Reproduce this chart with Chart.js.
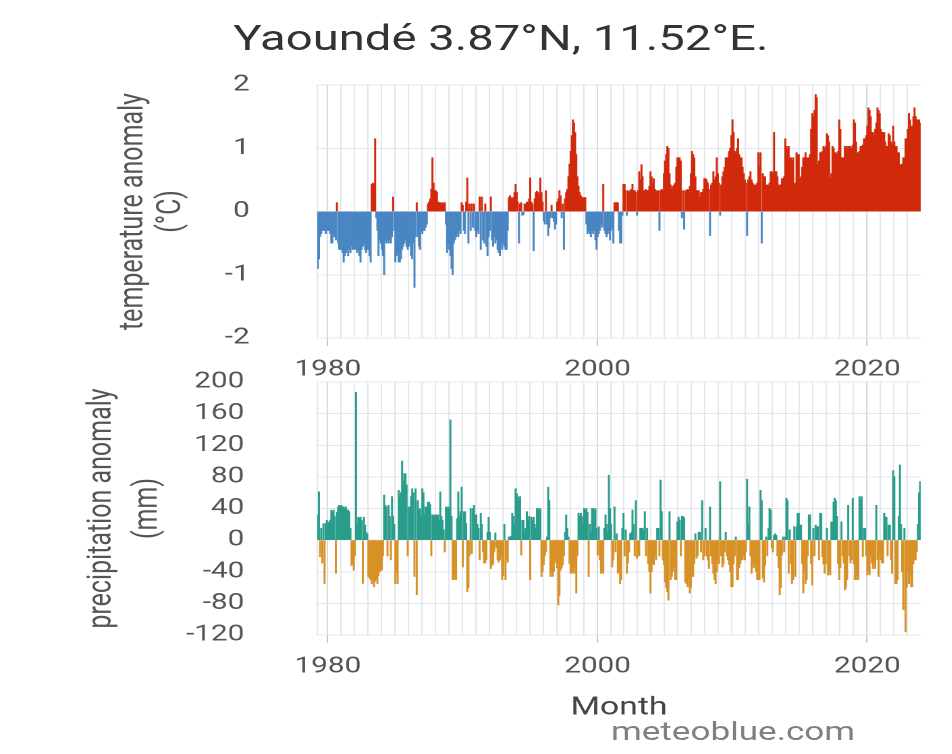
<!DOCTYPE html>
<html>
<head>
<meta charset="utf-8">
<title>Yaoundé 3.87°N, 11.52°E.</title>
<script src="https://cdn.jsdelivr.net/npm/chart.js@4.4.1/dist/chart.umd.min.js"></script>
<style>
  html, body { margin: 0; padding: 0; background: #fff; }
  body { width: 952px; height: 754px; overflow: hidden; position: relative; font-family: Roboto, sans-serif; }
  /* the reference is a horizontally stretched screenshot, so everything is laid out
     705px wide and stretched by 1.35 */
  #stage { position: absolute; left: 0; top: 0; width: 705px; height: 754px; transform: scaleX(1.35); transform-origin: 0 0; }
  #title { position: absolute; left: 0; top: 21px; width: 742px; text-align: center; font-size: 35px; line-height: 35px; color: #333; }
  .box { position: absolute; left: 0; width: 705px; }
  #tempBox { top: 70px; height: 320px; }
  #precBox { top: 365px; height: 360px; }
  #credit { position: absolute; left: 443px; width: 200px; top: 716px; text-align: center; font-size: 26px; line-height: 30px; color: #808080; }
</style>
</head>
<body>
<div id="stage">
  <div id="title">Yaoundé 3.87°N, 11.52°E.</div>
  <div class="box" id="tempBox"><canvas id="tempChart"></canvas></div>
  <div class="box" id="precBox"><canvas id="precChart"></canvas></div>
  <div id="credit">meteoblue.com</div>
</div>
<script>
const tickYears = ['1980', '2000', '2020'];
const startYear = 1979;
const startMonth = 4;

// monthly temperature anomaly (°C), one line per year
const tempAnomaly = [
  -0.9, -0.75, -0.4, -0.35, -0.3, -0.3, -0.3, -0.35, -0.3,
  -0.3, -0.3, -0.35, -0.5, -0.5, -0.35, -0.4, -0.45, 0.14, -0.5, -0.6, -0.6,
  -0.6, -0.65, -0.8, -0.7, -0.65, -0.6, -0.7, -0.6, -0.65, -0.55, -0.6, -0.6,
  -0.55, -0.6, -0.65, -0.6, -0.7, -0.8, -0.6, -0.55, -0.5, -0.6, -0.65, -0.6,
  -0.6, -0.7, -0.8, 0.43, 0.45, 0.43, 1.15, -0.1, -0.3, -0.7, -0.45, -0.5,
  -0.6, -0.7, -1.0, -0.45, -0.5, -0.45, -0.5, -0.45, -0.5, -0.4, 0.23, -0.3,
  -0.8, -0.7, -0.65, -0.8, -0.8, -0.75, -0.6, -0.55, -0.5, -0.45, -0.55, -0.6,
  -0.55, -0.5, -0.7, -0.75, -0.5, -1.2, -0.4, 0.14, -0.4, -0.55, -0.6, -0.3,
  -0.35, -0.3, -0.3, -0.25, -0.2, 0.12, 0.15, 0.2, 0.35, 0.85, 0.45, 0.33,
  0.33, 0.3, 0.15, 0.14, 0.14, 0.12, 0.14, 0.12, 0.14, -0.2, -0.65, -0.5,
  -0.6, -0.7, -0.9, -1.0, -0.5, -0.45, -0.4, -0.35, -0.4, -0.3, -0.35, 0.14,
  0.1, -0.3, -0.35, 0.15, 0.53, -0.5, 0.12, -0.3, 0.12, -0.25, 0.12, -0.3,
  -0.4, -0.3, -0.35, 0.23, -0.6, 0.23, -0.45, -0.5, 0.12, -0.55, -0.7, -0.4,
  -0.3, 0.23, -0.45, -0.55, -0.4, -0.5, -0.45, -0.6, -0.65, -0.7, -0.5, -0.6,
  -0.5, -0.55, -0.6, -0.6, -0.3, 0.22, 0.25, 0.22, 0.18, 0.22, 0.3, 0.43,
  0.3, 0.15, -0.5, 0.12, 0.14, -0.06, -0.05, 0.12, 0.12, 0.15, 0.14, 0.2,
  0.53, 0.15, 0.12, -0.62, 0.2, 0.3, 0.32, 0.3, 0.25, 0.53, 0.3, 0.15,
  -0.15, -0.2, 0.33, -0.2, -0.38, -0.25, -0.1, 0.1, -0.1, -0.15, -0.28, -0.2,
  0.15, 0.2, 0.33, 0.25, -0.1, 0.12, -0.6, 0.2, 0.3, 0.35, 0.55, 0.75,
  0.95, 1.2, 1.45, 1.4, 1.25, 0.9, 0.55, 0.4, 0.3, 0.25, 0.22, 0.22,
  0.22, 0.22, -0.2, -0.35, -0.3, -0.35, -0.4, -0.3, -0.35, -0.3, -0.45, -0.6,
  -0.4, -0.35, -0.3, -0.2, -0.25, 0.43, -0.3, -0.35, -0.4, -0.35, -0.3, -0.45,
  -0.3, -0.25, -0.5, 0.14, 0.14, 0.14, 0.14, -0.3, -0.5, -0.5, -0.06, 0.43,
  0.43, 0.33, -0.06, 0.33, 0.3, 0.33, 0.35, 0.43, 0.33, 0.33, 0.3, -0.06,
  0.33, 0.63, 0.5, 0.74, 0.55, 0.33, 0.33, 0.35, 0.33, 0.33, 0.4, 0.63,
  0.55, 0.45, 0.52, 0.35, 0.33, 0.32, 0.33, -0.3, 0.33, 0.35, 0.33, 0.6,
  0.8, 0.9, 1.03, 1.0, 0.6, 0.42, 0.35, 0.4, 0.42, 0.45, 0.7, 0.85,
  0.85, 0.85, 0.8, -0.1, 0.33, -0.28, 0.33, 0.33, 0.35, 0.33, 0.4, 0.6,
  0.95, 0.9, 0.85, 0.55, 0.33, 0.33, 0.33, 0.23, 0.3, 0.3, 0.35, 0.52,
  0.52, 0.5, 0.45, 0.35, -0.38, 0.42, 0.45, 0.63, 0.5, 0.55, 0.85, 0.6,
  0.45, -0.06, 0.42, 0.55, 0.63, 0.7, 0.85, 0.85, 0.85, 0.95, 1.0, 1.2,
  1.45, 1.25, 0.95, 0.93, 1.0, 1.15, 0.9, 0.85, 0.85, 0.7, 0.6, 0.5,
  0.45, -0.38, 0.5, 0.55, 0.63, 0.5, 0.45, 0.42, 0.42, 0.42, 0.45, 0.93,
  0.7, 0.93, -0.5, 0.6, 0.55, 0.55, 0.42, 0.42, 0.42, 0.45, 0.63, 0.63,
  0.6, 1.25, 0.63, 0.63, 0.55, 0.42, 0.42, 0.42, 0.52, 0.52, 0.55, 1.15,
  1.03, 1.0, 1.03, 0.85, 0.85, 0.8, 0.85, 0.42, 0.45, 0.93, 0.9, 0.9,
  0.52, 0.55, 0.7, 0.85, 0.85, 0.93, 0.85, 0.85, 0.85, 0.9, 1.3, 1.55,
  1.5, 1.6, 1.85, 1.8, 0.74, 0.8, 0.93, 0.93, 0.95, 1.03, 1.0, 1.03,
  1.23, 1.2, 1.1, 0.52, 0.6, 1.03, 1.0, 0.93, 0.93, 0.9, 0.95, 1.45,
  1.3, 0.85, 0.85, 0.85, 1.03, 1.03, 1.0, 1.03, 1.03, 1.03, 1.0, 1.05,
  1.45, 1.4, 1.1, 0.93, 0.93, 0.95, 1.03, 1.03, 1.05, 1.15, 1.15, 1.2,
  1.35, 1.64, 1.6, 1.5, 1.25, 1.25, 1.2, 1.3, 1.4, 1.64, 1.6, 1.55,
  1.3, 1.25, 1.25, 1.25, 1.1, 1.03, 1.03, 1.23, 1.2, 1.1, 1.05, 1.35,
  1.1, 1.03, 1.03, 0.93, 0.93, 0.74, 0.74, 0.75, 0.85, 0.85, 1.15, 1.15,
  1.3, 1.55, 1.45, 1.35, 1.35, 1.5, 1.64, 1.5, 1.45, 1.45, 1.45, 1.4
];

// monthly precipitation anomaly (mm), one line per year
const precipAnomaly = [
  32, 61, -21, 15, -29, 21, -55, 21, 25,
  23, 22, 25, 38, 36, 38, 30, -42, 35, 42, 44, 42,
  44, 42, 42, 40, 42, 38, 38, 36, 15, -32, -30, -38,
  -20, 187, 20, 29, 28, 29, 25, -55, 29, 19, 10, 8,
  -46, -48, -50, -55, -50, -59, -52, -50, -55, -45, -40, -38,
  -38, -20, 57, 44, 42, -20, 44, 30, -25, 55, 30, 20,
  -55, -40, -55, 63, 55, 60, 100, 75, 84, 84, 70, -20,
  42, 42, 55, 65, 60, -46, 65, -69, 50, 38, 40, 30,
  65, 60, 32, 42, 42, 48, 48, 45, -20, 32, 30, 32,
  32, 30, 32, 25, 61, 30, 25, 13, -15, 42, 40, 42,
  40, 152, 30, -50, -50, -48, -50, 27, 61, 30, 36, 67,
  -34, 36, 36, 21, -65, -60, -20, 40, -17, 40, 44, 32,
  32, 20, 15, -25, 34, 20, -15, -29, -29, -25, 10, 29,
  10, -36, -32, -30, -15, 9, -10, -25, -28, -25, -20, -50,
  -45, 20, -50, -25, -28, 4, 4, 5, 34, 30, 20, 65,
  59, 55, 50, 55, -19, 25, 25, 10, 15, 36, 25, 30,
  -50, 29, 25, 29, 20, 15, 40, 40, 38, 40, -46, -40,
  -31, -20, -15, 4, 67, 50, -46, -40, -46, -40, -29, -25,
  -35, -82, -70, -38, -35, -31, -20, 10, 32, 15, 4, -30,
  -42, -40, -42, -35, -42, -67, -20, 34, 30, 34, 30, 20,
  40, 38, 40, 35, -46, 20, 10, 40, 40, 38, 40, 15,
  -19, 17, -25, -42, -40, -42, 15, 32, 20, 10, 82, 40,
  20, -34, -25, 42, -15, 8, -42, -40, -55, -50, 15, 34,
  -20, 13, -42, -29, -15, 8, 10, 38, 20, -20, 50, -23,
  -19, -20, 15, 15, 15, 12, 36, -20, 15, -30, -40, -67,
  -40, -30, -31, -19, -25, 15, 15, -20, 76, 36, -25, -31,
  -53, -60, -65, -76, 36, -50, -46, -40, -35, -50, -50, 23,
  29, 25, -20, 30, 30, 28, -53, -55, -59, -50, -67, -60,
  -46, -46, -30, 8, -23, -20, 10, 10, -15, 50, -25, -20,
  15, -20, -25, -36, 42, -20, -30, -42, -50, -55, -40, -25,
  -30, 74, -20, -34, -30, -15, 10, -20, -25, -31, -40, -59,
  -59, -30, -20, 4, -50, -50, -35, -30, -25, -25, -20, -25,
  -15, 77, 20, 42, -20, -42, -30, -35, -30, -40, -50, -50,
  -50, 63, 50, -48, -53, -32, 4, -20, 15, 40, 38, -10,
  -15, 6, 8, 6, -20, -35, -69, -60, -19, 4, -15, 4,
  53, 50, -42, 13, -30, -55, -50, 17, -46, 17, 34, 34,
  19, 19, -30, -67, -40, -55, -50, -20, 32, 32, -30, -57,
  15, -20, 19, 17, 17, -25, 34, 34, -21, -30, -42, -30,
  15, -44, -40, -44, 23, 23, 48, 53, 50, 30, -30, -50,
  -35, 23, -20, -29, -63, -60, -50, 44, -20, -29, -25, 53,
  -30, -50, -50, -45, -50, 55, 50, 55, -21, 15, 15, -20,
  -44, -40, -44, -20, -29, -36, -30, -36, 44, -25, -46, -20,
  -25, -29, -29, 34, 29, 29, -20, 19, 19, -25, -42, 88,
  80, -55, -55, -50, 30, 95, 20, -40, -88, 15, -116, -60,
  -40, -55, -45, -59, -59, -30, -25, -25, -15, 20, 60, 74
];

// month categories, e.g. "1979-04"
const months = tempAnomaly.map((_, i) => {
  const m = startMonth - 1 + i;
  return (startYear + Math.floor(m / 12)) + '-' + String(m % 12 + 1).padStart(2, '0');
});

const isJan = i => !!months[i] && months[i].endsWith('-01');
const isLabelled = i => isJan(i) && tickYears.includes(months[i].slice(0, 4));

const gridCol = '#e4e6eb';
const decadeCol = '#d3d7de';
const textCol = '#555';
const clear = 'rgba(0,0,0,0)';

function anomalyChart(id, values, cfg) {
  return new Chart(document.getElementById(id), {
    type: 'bar',
    data: {
      labels: months,
      datasets: [{
        data: values,
        backgroundColor: c => (c.raw >= 0 ? cfg.up : cfg.down),
        borderWidth: 0,
        barPercentage: 1,
        categoryPercentage: 1
      }]
    },
    options: {
      animation: false,
      responsive: true,
      maintainAspectRatio: false,
      devicePixelRatio: 2,
      layout: { padding: { left: cfg.padLeft, right: 23, top: cfg.padTop, bottom: 0 } },
      plugins: { legend: { display: false }, tooltip: { enabled: false } },
      scales: {
        x: {
          grid: {
            offset: true,
            color: c => (isLabelled(c.index) ? decadeCol : isJan(c.index) ? gridCol : clear),
            tickColor: c => (isLabelled(c.index) ? '#c3c7cf' : clear),
            tickLength: 8
          },
          border: { display: false },
          ticks: {
            autoSkip: false,
            maxRotation: 0,
            minRotation: 0,
            padding: 11,
            color: textCol,
            font: { family: 'Roboto', size: 22 },
            callback: (v, i) => (isLabelled(i) ? months[i].slice(0, 4) : '')
          },
          title: cfg.xTitle
            ? { display: true, text: cfg.xTitle, color: '#444', font: { family: 'Roboto', size: 25 }, padding: { top: 0, bottom: 2 } }
            : { display: false },
          afterFit: a => { a.height = cfg.xHeight; }
        },
        y: {
          min: cfg.min,
          max: cfg.max,
          ticks: { stepSize: cfg.step, autoSkip: false, padding: 0, color: textCol, font: { family: 'Roboto', size: 22 } },
          // invisible tick marks keep the labels away from the plot
          grid: { color: gridCol, drawTicks: true, tickLength: cfg.tickGap, tickColor: clear },
          border: { display: true, color: gridCol },
          title: {
            display: true,
            text: cfg.yTitle,
            color: textCol,
            font: { family: 'Roboto', size: 25, lineHeight: cfg.titleLine },
            padding: 0
          },
          afterFit: a => { a.width = cfg.yWidth; }
        }
      }
    }
  });
}

anomalyChart('tempChart', tempAnomaly, {
  up: '#d12a0c', down: '#4a86c2',
  min: -2, max: 2, step: 1,
  yTitle: ['temperature anomaly', '(°C)'], titleLine: 1.12,
  padLeft: 85, yWidth: 150, tickGap: 50,
  padTop: 15, xHeight: 52
});

anomalyChart('precChart', precipAnomaly, {
  up: '#2a9d8c', down: '#d69228',
  min: -120, max: 200, step: 40,
  yTitle: ['precipitation anomaly', '(mm)'], titleLine: 1.35,
  padLeft: 59, yWidth: 176, tickGap: 54,
  padTop: 17, xHeight: 90, xTitle: 'Month'
});
</script>
</body>
</html>
